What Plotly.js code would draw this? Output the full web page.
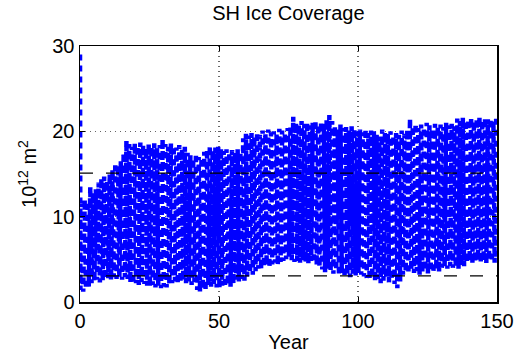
<!DOCTYPE html>
<html>
<head>
<meta charset="utf-8">
<script src="https://cdn.plot.ly/plotly-3.0.1.min.js"></script>
<style>
html,body{margin:0;padding:0;background:#fff;}
#chart{width:514px;height:355px;}
</style>
</head>
<body>
<div id="chart"></div>
<script>
// Initial value at start of run (spin-up)
const initialValue = 29;
// Annual maximum ice coverage (10^12 m^2), years 0..149
const annualMax = [
 11.5, 12.0, 11.8, 13.5, 12.8, 13.2, 14.0, 14.5, 14.7, 14.2,
 15.0, 15.5, 16.3, 16.0, 16.5, 17.5, 18.9, 18.5, 18.2, 18.6,
 18.3, 18.7, 18.4, 18.0, 18.5, 18.2, 18.6, 18.1, 18.4, 19.1,
 18.5, 18.2, 18.6, 18.3, 18.1, 18.4, 17.9, 18.2, 17.5, 17.2,
 16.8, 17.4, 17.0, 16.9, 17.6, 17.9, 18.3, 17.8, 18.1, 18.2,
 18.0, 17.7, 17.9, 17.6, 17.8, 17.5, 17.9, 17.6, 19.2, 19.7,
 19.5, 19.8, 19.4, 19.9, 19.6, 20.1, 19.8, 20.2, 19.9, 20.0,
 19.7, 20.3, 20.1, 19.8, 20.4, 20.6, 21.7, 21.0, 20.8, 21.2,
 20.9, 21.1, 20.7, 21.0, 21.3, 20.8, 21.1, 20.9, 21.4, 21.9,
 21.2, 20.6, 20.2, 20.8, 20.4, 20.5, 20.1, 20.6, 20.3, 20.0,
 20.2, 19.9, 20.3, 19.8, 20.1, 20.0, 19.6, 19.4, 20.2, 19.9,
 19.7, 20.0, 19.5, 19.8, 19.6, 20.1, 19.7, 20.2, 21.5, 20.6,
 20.9, 20.4, 20.8, 20.5, 21.0, 20.7, 20.3, 20.9, 20.6, 20.8,
 20.5, 21.0, 20.7, 20.9, 20.6, 21.5, 21.2, 21.6, 21.3, 21.4,
 21.6, 21.2, 21.5, 21.7, 21.3, 21.6, 21.4, 21.5, 21.2, 21.6
];
// Annual minimum ice coverage (10^12 m^2), years 0..149
const annualMin = [
 1.4, 1.2, 1.5, 1.8, 2.2, 2.4, 2.6, 2.3, 2.5, 2.7,
 2.8, 2.6, 2.9, 2.7, 2.8, 2.6, 2.9, 2.7, 2.3, 2.1,
 2.2, 2.0, 2.3, 2.1, 1.9, 1.8, 2.0, 1.7, 1.9, 1.6,
 1.8, 1.7, 2.0, 2.2, 2.4, 2.1, 2.3, 2.5, 2.2, 2.4,
 2.0, 2.3, 1.4, 1.2, 1.5, 1.3, 2.0, 1.8, 2.1, 1.7,
 1.6, 1.9, 1.7, 2.0, 1.8, 2.1, 2.6, 2.4, 2.7, 2.5,
 3.0, 3.4, 3.2, 3.6, 3.9, 3.8, 4.1, 4.3, 4.0, 4.4,
 4.6, 4.3, 4.7, 4.8, 5.0, 5.3, 4.9, 4.7, 4.8, 4.6,
 4.9, 4.7, 4.5, 4.8, 4.6, 4.3, 4.1, 3.8, 3.5, 3.9,
 3.6, 3.3, 3.7, 3.1, 3.4, 2.9, 3.2, 2.9, 3.3, 3.1,
 3.4, 3.2, 3.0, 2.8, 2.6, 2.9, 2.4, 2.7, 2.2, 2.5,
 2.8, 2.3, 2.6, 2.1, 1.6, 2.4, 3.2, 3.5, 3.3, 3.7,
 3.4, 3.6, 3.2, 3.5, 3.7, 3.3, 3.6, 3.4, 3.8, 3.5,
 4.0, 4.1, 3.9, 4.2, 4.0, 4.1, 3.9, 4.3, 4.2, 4.6,
 4.8, 4.5, 4.7, 4.9, 4.6, 4.8, 4.5, 4.9, 4.7, 4.6
];
// Reference levels (black dashed lines)
const refLevels = [15.1, 3.05];
const xRange = [0, 150];
const xTicks = [0, 50, 100, 150];
const yTicks = [0, 10, 20, 30];

// Build seasonal trace: min and max of each year
const xs = [0], ys = [initialValue];
for (let i = 0; i < annualMax.length; i++) {
  xs.push(i + 0.15); ys.push(annualMin[i]);
  xs.push(i + 0.70); ys.push(annualMax[i]);
}

const traces = [{
  x: xs, y: ys, type: 'scatter', mode: 'lines',
  line: {color: '#0000ff', width: 4.5, dash: '6px,5px'},
  hoverinfo: 'skip'
}];
refLevels.forEach(v => {
  traces.push({
    x: xRange, y: [v, v], type: 'scatter', mode: 'lines',
    line: {color: '#000000', width: 1.2, dash: '13px,13px'},
    hoverinfo: 'skip'
  });
});

const font = "Liberation Sans, Arial, Helvetica, sans-serif";
const layout = {
  width: 514, height: 355,
  margin: {l: 80, r: 17, t: 46, b: 53, pad: 0},
  paper_bgcolor: '#fff', plot_bgcolor: '#fff',
  showlegend: false,
  font: {family: font, color: '#000', size: 20},
  title: {text: 'SH Ice Coverage', font: {family: font, size: 20, color: '#000'},
          x: 0.561, xanchor: 'center', y: 0.962, yanchor: 'middle'},
  xaxis: {
    range: xRange, tickvals: xTicks, ticktext: xTicks.map(String),
    ticks: 'inside', ticklen: 5, tickwidth: 1, tickcolor: '#000',
    showline: true, linecolor: '#000', linewidth: 1.5, mirror: 'ticks',
    showgrid: true, gridcolor: '#666', griddash: '1px,4px', gridwidth: 1.2,
    zeroline: false, tickfont: {size: 20},
    title: {text: 'Year', font: {size: 20}, standoff: 4}
  },
  yaxis: {
    range: [0, 30], tickvals: yTicks, ticktext: yTicks.map(String),
    ticks: 'inside', ticklen: 5, tickwidth: 1, tickcolor: '#000',
    showline: true, linecolor: '#000', linewidth: 1.5, mirror: 'ticks',
    showgrid: true, gridcolor: '#666', griddash: '1px,4px', gridwidth: 1.2,
    zeroline: false, tickfont: {size: 20},
    title: {text: '10<sup>12</sup> m<sup>2</sup>', font: {size: 20}, standoff: 10}
  }
};
Plotly.newPlot('chart', traces, layout, {staticPlot: true, displayModeBar: false});
</script>
</body>
</html>
